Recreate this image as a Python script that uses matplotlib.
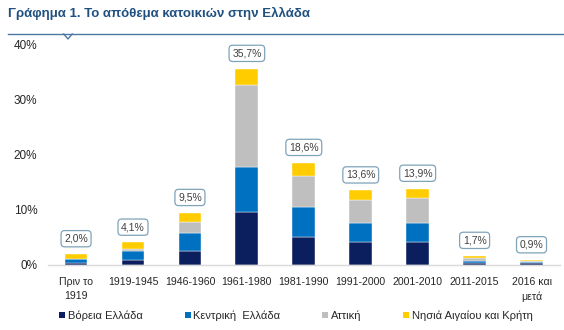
import matplotlib
matplotlib.use('Agg')
import numpy as np
import matplotlib.pyplot as plt
from matplotlib.patches import Patch
from matplotlib.lines import Line2D

plt.rcParams['font.family'] = ['Liberation Sans', 'DejaVu Sans']

periods = ['Πριν το\n1919', '1919-1945', '1946-1960', '1961-1980', '1981-1990',
           '1991-2000', '2001-2010', '2011-2015', '2016 και\nμετά']
regions = ['Βόρεια Ελλάδα', 'Κεντρική  Ελλάδα', 'Αττική', 'Νησιά Αιγαίου και Κρήτη']
colors = ['#0B1F5E', '#0070C0', '#BFBFBF', '#FFCC00']

# share of the housing stock (%) by construction period and region
north = [0.3, 0.9, 2.6, 9.7, 5.0, 4.1, 4.2, 0.4, 0.3]
central = [0.7, 1.7, 3.3, 8.2, 5.5, 3.6, 3.4, 0.4, 0.2]
attica = [0.1, 0.3, 1.9, 14.8, 5.7, 4.2, 4.6, 0.4, 0.2]
islands = [0.9, 1.2, 1.7, 3.0, 2.4, 1.7, 1.7, 0.5, 0.2]

series = [north, central, attica, islands]
x = np.arange(len(periods))

fig = plt.figure(figsize=(5.64, 3.30), dpi=100)
ax = fig.add_axes([0.0844, 0.197, 0.9085, 0.6667])

bottom = np.zeros(len(periods))
for vals, col in zip(series, colors):
    ax.bar(x, vals, width=0.4, bottom=bottom, color=col,
           edgecolor='white', linewidth=0.3)
    bottom += np.array(vals)

totals = bottom
for xi, t in zip(x, totals):
    ax.annotate(f'{t:.1f}'.replace('.', ',') + '%', (xi, t),
                xytext=(0, 11), textcoords='offset points',
                ha='center', va='center', fontsize=7.5, color='#404040',
                bbox=dict(boxstyle='round,pad=0.3,rounding_size=0.35',
                          fc='white', ec='#7FA3B9', lw=0.9))

ax.set_xlim(-0.5, len(periods) - 0.5)
ax.set_ylim(0, 40)
ax.set_yticks([0, 10, 20, 30, 40])
ax.set_yticklabels(['0%', '10%', '20%', '30%', '40%'])
ax.set_xticks(x)
ax.set_xticklabels(periods, linespacing=1.5)
ax.tick_params(axis='y', length=0, pad=7.5, labelsize=8.5, labelcolor='#262626')
ax.tick_params(axis='x', length=0, pad=8.5, labelsize=7.6, labelcolor='#262626')
for s in ['top', 'right', 'left']:
    ax.spines[s].set_visible(False)
ax.spines['bottom'].set_color('#D9D9D9')
ax.spines['bottom'].set_linewidth(1.0)

handles = [Patch(facecolor=c, edgecolor='none') for c in colors]
fig.legend(handles, regions, loc='center left', bbox_to_anchor=(0.095, 0.043),
           ncol=4, frameon=False, fontsize=8, handlelength=0.55, handleheight=0.55,
           handletextpad=0.25, columnspacing=3.75, borderpad=0, labelcolor='#262626')

# heading with rule and small chevron
fig.text(0.014, 0.958, 'Γράφημα 1. Το απόθεμα κατοικιών στην Ελλάδα',
         fontsize=9.5, fontweight='bold', color='#1F5080', va='center')
fig.add_artist(Line2D([0.014, 1.0], [0.897, 0.897], color='#4F76A3', lw=1.0,
                      transform=fig.transFigure))
fig.add_artist(Line2D([0.113, 0.1205, 0.128], [0.897, 0.882, 0.897], color='#4F76A3',
                      lw=1.0, transform=fig.transFigure))

fig.savefig('out.png', dpi=100)
